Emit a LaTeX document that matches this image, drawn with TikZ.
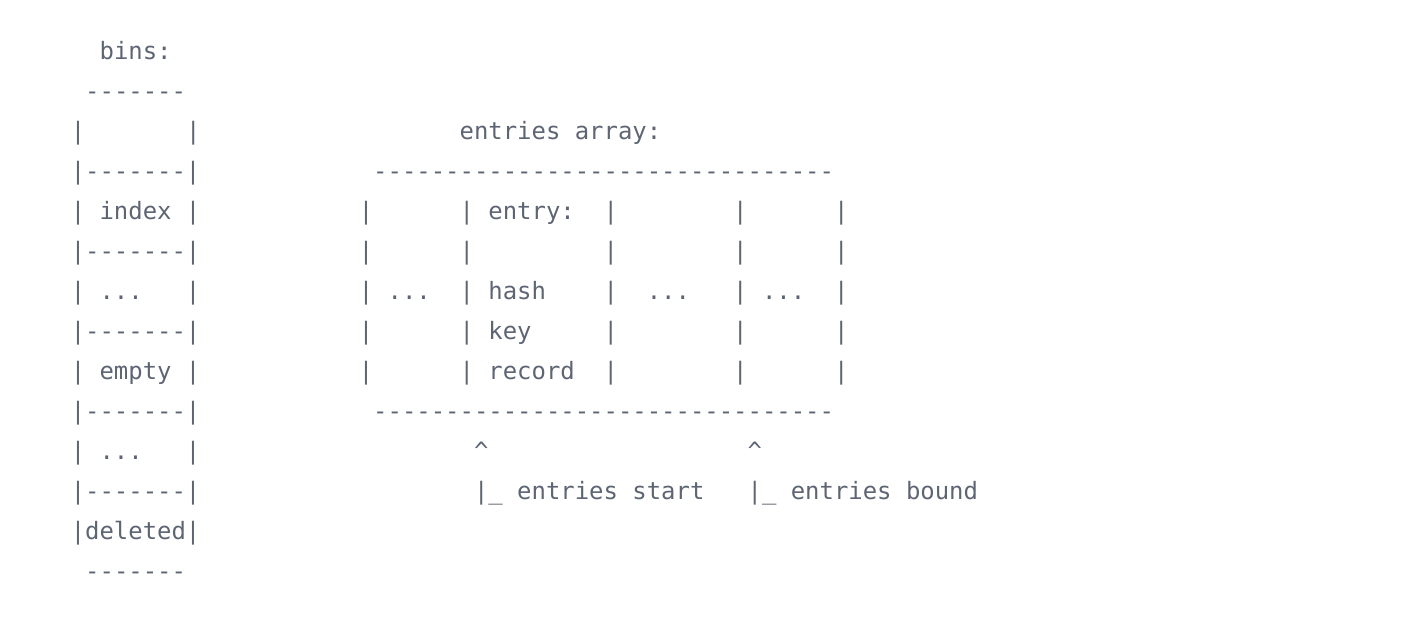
\documentclass[tikz,border=0pt]{standalone}
\usepackage{fontspec}
\setmonofont{DejaVu Sans Mono}
\usetikzlibrary{positioning}

\definecolor{asciigrey}{HTML}{5D6573}
\tikzset{
    ascii/.style={anchor=base west, inner sep=0pt, outer sep=0pt,
        text=asciigrey, font=\ttfamily\fontsize{11.96pt}{14pt}\selectfont\frenchspacing}
}

\begin{document}
\begin{tikzpicture}

            \def\X{35.4pt};
            \def\Ytop{-29.5pt};
            \def\lh{20pt};

            \useasboundingbox (0,0) rectangle (712pt,-309pt);

            % bins column and entries array, one text line per row
            \node[ascii] (r0)  at (\X, \Ytop) {~~bins:};
            \node[ascii] (r1)  at (\X, \Ytop - 1*\lh) {~-------};
            \node[ascii] (r2)  at (\X, \Ytop - 2*\lh) {|~~~~~~~|~~~~~~~~~~~~~~~~~~entries~array:};
            \node[ascii] (r3)  at (\X, \Ytop - 3*\lh) {|-------|~~~~~~~~~~~~--------------------------------};
            \node[ascii] (r4)  at (\X, \Ytop - 4*\lh) {|~index~|~~~~~~~~~~~|~~~~~~|~entry:~~|~~~~~~~~|~~~~~~|};
            \node[ascii] (r5)  at (\X, \Ytop - 5*\lh) {|-------|~~~~~~~~~~~|~~~~~~|~~~~~~~~~|~~~~~~~~|~~~~~~|};
            \node[ascii] (r6)  at (\X, \Ytop - 6*\lh) {|~...~~~|~~~~~~~~~~~|~...~~|~hash~~~~|~~...~~~|~...~~|};
            \node[ascii] (r7)  at (\X, \Ytop - 7*\lh) {|-------|~~~~~~~~~~~|~~~~~~|~key~~~~~|~~~~~~~~|~~~~~~|};
            \node[ascii] (r8)  at (\X, \Ytop - 8*\lh) {|~empty~|~~~~~~~~~~~|~~~~~~|~record~~|~~~~~~~~|~~~~~~|};
            \node[ascii] (r9)  at (\X, \Ytop - 9*\lh) {|-------|~~~~~~~~~~~~--------------------------------};
            % pointers into the entries array
            \node[ascii] (r10) at (\X, \Ytop - 10*\lh) {|~...~~~|~~~~~~~~~~~~~~~~~~~\textasciicircum~~~~~~~~~~~~~~~~~~\textasciicircum};
            \node[ascii] (r11) at (\X, \Ytop - 11*\lh) {|-------|~~~~~~~~~~~~~~~~~~~|\_~entries~start~~~|\_~entries~bound};
            \node[ascii] (r12) at (\X, \Ytop - 12*\lh) {|deleted|};
            \node[ascii] (r13) at (\X, \Ytop - 13*\lh) {~-------};
        \end{tikzpicture}
\end{document}
